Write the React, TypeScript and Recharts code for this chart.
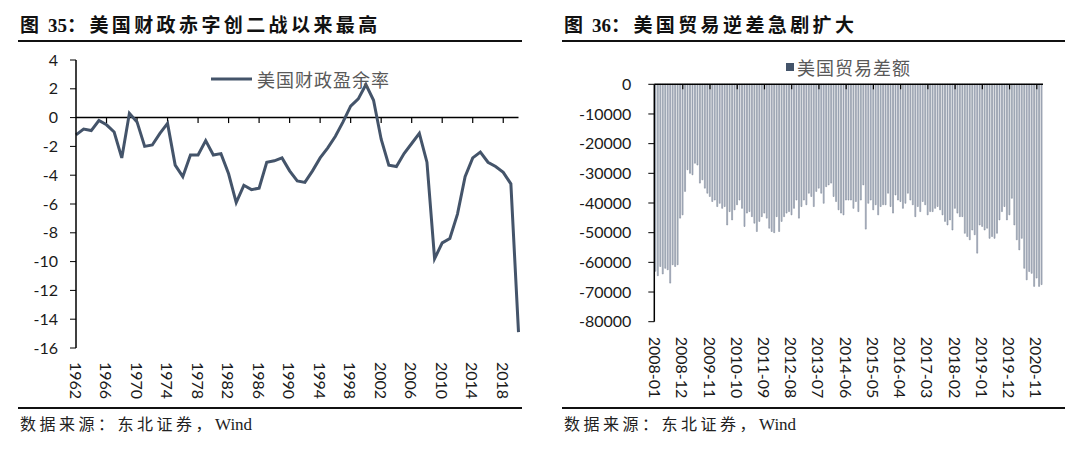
import { Bar, BarChart, Legend, Line, LineChart, ReferenceLine, XAxis, YAxis } from 'recharts';

// 图35：美国财政盈余率（%），1962-2020
const years = Array.from({ length: 59 }, (_, i) => String(1962 + i));
const surplusRatio = [
  -1.2, -0.8, -0.9, -0.2, -0.5, -1.0, -2.8, 0.3, -0.3, -2.0,
  -1.9, -1.1, -0.4, -3.3, -4.1, -2.6, -2.6, -1.6, -2.6, -2.5,
  -3.9, -5.9, -4.7, -5.0, -4.9, -3.1, -3.0, -2.8, -3.7, -4.4,
  -4.5, -3.7, -2.8, -2.1, -1.3, -0.3, 0.8, 1.3, 2.3, 1.2,
  -1.5, -3.3, -3.4, -2.5, -1.8, -1.1, -3.1, -9.8, -8.7, -8.4,
  -6.7, -4.1, -2.8, -2.4, -3.1, -3.4, -3.8, -4.6, -14.9,
];
const surplusTicks = [-16, -14, -12, -10, -8, -6, -4, -2, 0, 2, 4];

// 图36：美国贸易差额（百万美元），2008-01 起按月
const months = Array.from({ length: 157 }, (_, i) => `${2008 + Math.floor(i / 12)}-${String((i % 12) + 1).padStart(2, '0')}`);
const tradeBalance = [
  -63000, -64500, -61400, -63900, -62000, -62500, -67000, -60800, -61400, -60800, -45100, -44000,
  -36100, -28800, -30000, -30500, -26600, -27200, -33300, -32200, -35000, -36700, -37800, -39500,
  -39000, -41200, -40100, -41800, -41200, -47400, -42900, -45700, -42300, -40600, -39000, -41800,
  -47900, -43400, -42900, -44600, -46800, -49600, -46200, -44600, -43400, -45100, -48500, -49600,
  -50000, -44600, -49600, -46200, -44600, -43400, -42900, -44000, -41800, -39000, -45100, -41200,
  -39000, -40600, -36700, -37800, -41200, -36100, -35000, -36700, -40100, -34500, -33900, -33300,
  -37800, -39500, -42300, -43400, -44000, -39000, -39000, -39000, -41800, -39500, -42900, -39000,
  -33900, -48800, -40100, -39000, -42300, -40600, -44000, -41200, -40600, -40600, -36700, -41200,
  -43400, -37300, -39000, -39500, -41800, -40100, -36700, -39000, -40600, -44600, -41200, -42900,
  -39500, -40600, -44000, -42900, -42900, -41800, -41200, -42300, -44000, -46200, -47400, -45700,
  -49100, -41800, -43400, -44600, -44600, -50200, -51300, -52400, -49100, -50700, -56900, -47400,
  -47900, -49100, -48500, -51900, -51300, -51900, -50200, -45700, -42900, -41200, -45700, -44000,
  -38400, -47400, -52400, -55800, -51900, -62000, -65900, -63100, -63700, -68100, -65300, -68100,
  -67500,
];
const tradeTicks = [-80000, -70000, -60000, -50000, -40000, -30000, -20000, -10000, 0];

const surplusRows = years.map((year, i) => ({ year, ratio: surplusRatio[i] }));
const tradeRows = months.map((month, i) => ({ month, balance: tradeBalance[i] }));
const surplusMarks = years.filter((_, i) => i > 0 && i % 4 === 0);
const tradeMarks = months.filter((_, i) => i > 0 && i % 11 === 0);

const ink = '#44546A';
const numFont = 'Lato, "Open Sans", sans-serif';
const cjkFont = '"Noto Sans CJK SC", sans-serif';
const serifMix = '"Liberation Serif", "Noto Sans CJK SC", serif';

const RotatedTick = ({ x, y, payload, gap }: any) => (
  <text
    transform={`translate(${x},${y + gap}) rotate(90)`}
    dominantBaseline="central"
    fontSize={16}
    fontFamily={numFont}
    fill="#1a1a1a"
  >
    {payload.value}
  </text>
);

const LegendKey = ({ payload, kind }: any) => {
  const item = payload?.[0];
  if (!item) return null;
  return (
    <div style={{ display: 'flex', alignItems: 'center', fontFamily: cjkFont, fontSize: 18, color: '#595959', letterSpacing: 1, whiteSpace: 'nowrap' }}>
      {kind === 'line' ? (
        <svg width={46} height={10} style={{ display: 'block' }}>
          <line x1={0} y1={5} x2={41} y2={5} stroke={ink} strokeWidth={3} />
        </svg>
      ) : (
        <svg width={11} height={10} style={{ display: 'block' }}>
          <rect x={0} y={1} width={8} height={8} fill={ink} />
        </svg>
      )}
      <span>{item.value}</span>
    </div>
  );
};

const Frame = ({ left, width, num, title }: { left: number; width: number; num: string; title: string }) => (
  <>
    <div style={{ position: 'absolute', left: left + 20, top: 12, lineHeight: '28px', fontSize: 19, fontWeight: 700, fontFamily: serifMix, color: '#111', whiteSpace: 'nowrap' }}>
      <span style={{ letterSpacing: 9 }}>图</span>
      <span>{num}</span>
      <span style={{ letterSpacing: 3.4 }}>：{title}</span>
    </div>
    <div style={{ position: 'absolute', left: left + 18, top: 40, width, height: 2, background: '#111' }} />
    <div style={{ position: 'absolute', left: left + 18, top: 407, width, height: 2, background: '#111' }} />
    <div style={{ position: 'absolute', left: left + 20, top: 413, lineHeight: '24px', fontSize: 16, fontFamily: serifMix, color: '#222', whiteSpace: 'nowrap' }}>
      <span style={{ letterSpacing: 3.5 }}>数据来源：东北证券，</span>
      <span style={{ fontSize: 17 }}>Wind</span>
    </div>
  </>
);

export default function App() {
  return (
    <div style={{ position: 'absolute', left: 0, top: 0, width: 1080, height: 453, background: '#fff', overflow: 'hidden' }}>
      <Frame left={0} width={504} num="35" title="美国财政赤字创二战以来最高" />
      <Frame left={544} width={503} num="36" title="美国贸易逆差急剧扩大" />

      <div style={{ position: 'absolute', left: 0, top: 0 }}>
        <LineChart width={540} height={405} data={surplusRows} margin={{ top: 60, right: 21.5, bottom: 0, left: 0 }}>
          <XAxis
            dataKey="year"
            scale="point"
            interval={3}
            height={57}
            axisLine={false}
            tickLine={false}
            tickSize={0}
            tickMargin={0}
            tick={(p: any) => <RotatedTick {...p} gap={14} />}
          />
          <YAxis
            domain={[-16, 4]}
            ticks={surplusTicks}
            interval={0}
            width={76}
            axisLine={{ stroke: '#000', strokeWidth: 1.5 }}
            tickLine={{ stroke: '#000' }}
            tickSize={6}
            tickMargin={12}
            tick={{ fontSize: 16, fill: '#1a1a1a', fontFamily: numFont }}
          />
          <ReferenceLine y={0} stroke="#000" strokeWidth={1.5} />
          {surplusMarks.map((year) => (
            <ReferenceLine key={year} segment={[{ x: year, y: 0 }, { x: year, y: -0.38 }]} stroke="#000" strokeWidth={1.2} />
          ))}
          <Line
            type="linear"
            dataKey="ratio"
            name="美国财政盈余率"
            stroke={ink}
            strokeWidth={3}
            dot={false}
            isAnimationActive={false}
          />
          <Legend
            layout="vertical"
            align="center"
            verticalAlign="middle"
            wrapperStyle={{ left: 211, top: 66, width: 'auto' }}
            content={(props: any) => <LegendKey {...props} kind="line" />}
          />
        </LineChart>
      </div>

      <div style={{ position: 'absolute', left: 540, top: 0 }}>
        <BarChart width={540} height={405} data={tradeRows} margin={{ top: 84.3, right: 37, bottom: 0, left: 0 }} barCategoryGap="22%">
          <XAxis
            dataKey="month"
            interval={10}
            height={83.3}
            axisLine={false}
            tickLine={false}
            tickSize={0}
            tickMargin={0}
            tick={(p: any) => <RotatedTick {...p} gap={15} />}
          />
          <YAxis
            domain={[-80000, 0]}
            ticks={tradeTicks}
            interval={0}
            width={114.3}
            axisLine={{ stroke: '#000', strokeWidth: 1.5 }}
            tickLine={{ stroke: '#000' }}
            tickSize={6}
            tickMargin={17}
            tick={{ fontSize: 16, fill: '#1a1a1a', fontFamily: numFont }}
          />
          <Bar dataKey="balance" name="美国贸易差额" fill="#bcc4d1" stroke="#6c7789" strokeWidth={0.5} isAnimationActive={false} />
          <ReferenceLine y={0} stroke="#000" strokeWidth={1.5} />
          {tradeMarks.map((month) => (
            <ReferenceLine key={month} segment={[{ x: month, y: 0 }, { x: month, y: -1700 }]} stroke="#000" strokeWidth={1.2} />
          ))}
          <Legend
            layout="vertical"
            align="center"
            verticalAlign="middle"
            wrapperStyle={{ left: 246, top: 54, width: 'auto' }}
            content={(props: any) => <LegendKey {...props} kind="square" />}
          />
        </BarChart>
      </div>
    </div>
  );
}
